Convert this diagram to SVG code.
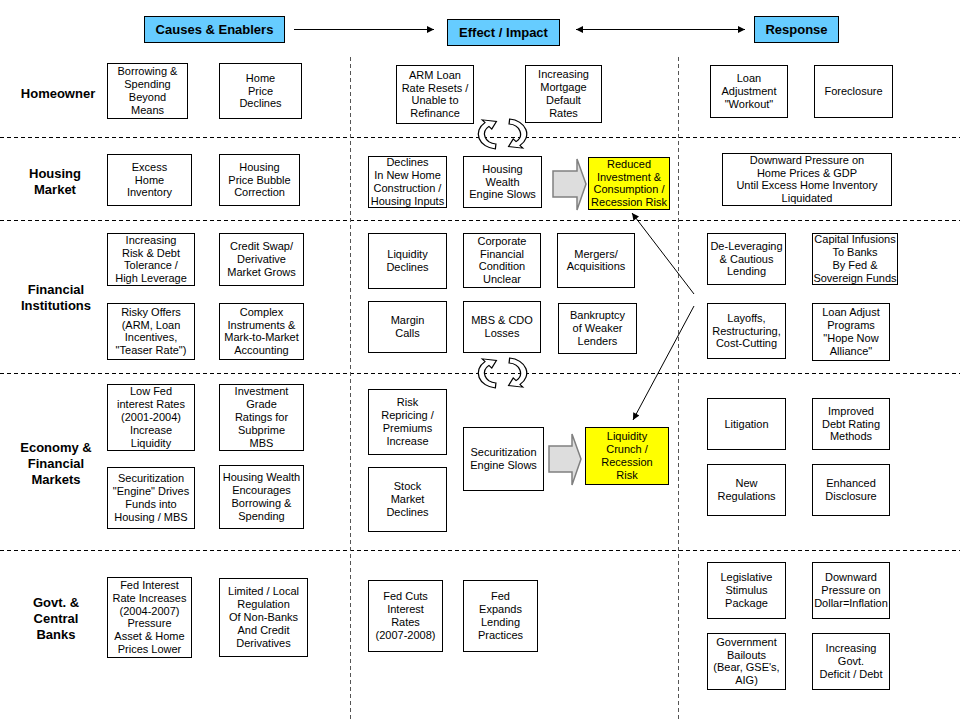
<svg xmlns="http://www.w3.org/2000/svg" width="960" height="720" viewBox="0 0 960 720">
<style>
.bx{fill:#fff;stroke:#000;stroke-width:1}
.yl{fill:#ffff00;stroke:#000;stroke-width:1}
.hd{fill:#66ccff;stroke:#000;stroke-width:1}
.t{font-family:"Liberation Sans",Arial,sans-serif;font-size:11px;fill:#000;text-anchor:middle}
.ht{font-family:"Liberation Sans",Arial,sans-serif;font-size:13px;font-weight:bold;fill:#000;text-anchor:middle}
.rl{font-family:"Liberation Sans",Arial,sans-serif;font-size:13px;font-weight:bold;fill:#000;text-anchor:middle}
.hl{stroke:#000;stroke-width:1;stroke-dasharray:4 3;fill:none}
.vl{stroke:#555;stroke-width:1;stroke-dasharray:4 3;fill:none}
.cn{stroke:#000;stroke-width:1;fill:none}
.blk{fill:#dddddd;stroke:#808080;stroke-width:1.5}
.ca{fill:#fff;stroke:#000;stroke-width:1}
</style>
<defs>
<marker id="ah" viewBox="0 0 10 10" refX="10" refY="5" markerWidth="9" markerHeight="7" markerUnits="userSpaceOnUse" orient="auto-start-reverse"><path d="M0,0 L10,5 L0,10 z" fill="#000"/></marker>
<path id="carc" d="M-1.31,14.94 A15,15 0 0 1 -9.64,-11.49 L-11.89,-14.17 L-0.44,-12.49 L-4.18,-4.98 L-6.43,-7.66 A10,10 0 0 0 -0.87,9.96 Z"/>
</defs>
<rect width="960" height="720" fill="#fff"/>

<g id="gridlines">
<line class="hl" x1="0" y1="137.5" x2="960" y2="137.5"/>
<line class="hl" x1="0" y1="220.5" x2="960" y2="220.5"/>
<line class="hl" x1="0" y1="373.5" x2="960" y2="373.5"/>
<line class="hl" x1="0" y1="550.5" x2="960" y2="550.5"/>
<line class="vl" x1="350.5" y1="57" x2="350.5" y2="720"/>
<line class="vl" x1="678.5" y1="57" x2="678.5" y2="720"/>
</g>

<g id="headers">
<g id="hdr-causes"><rect class="hd" x="144.5" y="16.5" width="140" height="26"/><text class="ht" x="214.5" y="34">Causes &amp; Enablers</text></g>
<g id="hdr-effect"><rect class="hd" x="447.5" y="19.5" width="112" height="26"/><text class="ht" x="503.5" y="37">Effect / Impact</text></g>
<g id="hdr-response"><rect class="hd" x="754.5" y="16.5" width="84" height="26"/><text class="ht" x="796.5" y="34">Response</text></g>
</g>

<g id="row-labels">
<text class="rl" x="58" y="98">Homeowner</text>
<text class="rl" x="55" y="178"><tspan x="55">Housing</tspan><tspan x="55" dy="16">Market</tspan></text>
<text class="rl" x="56" y="294"><tspan x="56">Financial</tspan><tspan x="56" dy="16">Institutions</tspan></text>
<text class="rl" x="56" y="452"><tspan x="56">Economy &amp;</tspan><tspan x="56" dy="16">Financial</tspan><tspan x="56" dy="16">Markets</tspan></text>
<text class="rl" x="56" y="607"><tspan x="56">Govt. &amp;</tspan><tspan x="56" dy="16">Central</tspan><tspan x="56" dy="16">Banks</tspan></text>
</g>

<g id="connectors">
<line class="cn" x1="294" y1="29.5" x2="434" y2="29.5" marker-end="url(#ah)"/>
<line class="cn" x1="576" y1="29.5" x2="745" y2="29.5" marker-start="url(#ah)" marker-end="url(#ah)"/>
<line class="cn" x1="694" y1="294" x2="632" y2="213" marker-end="url(#ah)"/>
<line class="cn" x1="694" y1="306" x2="633" y2="420" marker-end="url(#ah)"/>
<polygon class="blk" points="553,171 577,171 577,159 586,184 577,210 577,197 553,197"/>
<polygon class="blk" points="549,446 572,446 572,434 581,459 572,485 572,472 549,472"/>
<use href="#carc" class="ca" transform="translate(497,134) scale(1.25,1)"/>
<use href="#carc" class="ca" transform="translate(508,134) scale(-1.25,-1)"/>
<use href="#carc" class="ca" transform="translate(497,373) scale(1.25,1)"/>
<use href="#carc" class="ca" transform="translate(508,373) scale(-1.25,-1)"/>
</g>

<g id="n1"><rect class="bx" x="107.5" y="63.5" width="80" height="55"/><text class="t" y="75.3"><tspan x="147.5">Borrowing &amp;</tspan><tspan x="147.5" dy="12.8">Spending</tspan><tspan x="147.5" dy="12.8">Beyond</tspan><tspan x="147.5" dy="12.8">Means</tspan></text></g>
<g id="n2"><rect class="bx" x="219.5" y="63.5" width="82" height="55"/><text class="t" y="81.7"><tspan x="260.5">Home</tspan><tspan x="260.5" dy="12.8">Price</tspan><tspan x="260.5" dy="12.8">Declines</tspan></text></g>
<g id="n3"><rect class="bx" x="396.5" y="65.5" width="77" height="58"/><text class="t" y="78.8"><tspan x="435">ARM Loan</tspan><tspan x="435" dy="12.8">Rate Resets /</tspan><tspan x="435" dy="12.8">Unable to</tspan><tspan x="435" dy="12.8">Refinance</tspan></text></g>
<g id="n4"><rect class="bx" x="525.5" y="65.5" width="76" height="57"/><text class="t" y="78.3"><tspan x="563.5">Increasing</tspan><tspan x="563.5" dy="12.8">Mortgage</tspan><tspan x="563.5" dy="12.8">Default</tspan><tspan x="563.5" dy="12.8">Rates</tspan></text></g>
<g id="n5"><rect class="bx" x="710.5" y="65.5" width="77" height="52"/><text class="t" y="82.2"><tspan x="749">Loan</tspan><tspan x="749" dy="12.8">Adjustment</tspan><tspan x="749" dy="12.8">"Workout"</tspan></text></g>
<g id="n6"><rect class="bx" x="814.5" y="65.5" width="78" height="52"/><text class="t" x="853.5" y="95">Foreclosure</text></g>

<g id="h1"><rect class="bx" x="107.5" y="154.5" width="84" height="51"/><text class="t" y="170.7"><tspan x="149.5">Excess</tspan><tspan x="149.5" dy="12.8">Home</tspan><tspan x="149.5" dy="12.8">Inventory</tspan></text></g>
<g id="h2"><rect class="bx" x="219.5" y="154.5" width="80" height="51"/><text class="t" y="170.7"><tspan x="259.5">Housing</tspan><tspan x="259.5" dy="12.8">Price Bubble</tspan><tspan x="259.5" dy="12.8">Correction</tspan></text></g>
<g id="h3"><rect class="bx" x="368.5" y="156.5" width="78" height="51"/><text class="t" y="166.3"><tspan x="407.5">Declines</tspan><tspan x="407.5" dy="12.8">In New Home</tspan><tspan x="407.5" dy="12.8">Construction /</tspan><tspan x="407.5" dy="12.8">Housing Inputs</tspan></text></g>
<g id="h4"><rect class="bx" x="463.5" y="156.5" width="78" height="51"/><text class="t" y="172.7"><tspan x="502.5">Housing</tspan><tspan x="502.5" dy="12.8">Wealth</tspan><tspan x="502.5" dy="12.8">Engine Slows</tspan></text></g>
<g id="h5"><rect class="yl" x="588.5" y="157.5" width="81" height="52"/><text class="t" y="167.8"><tspan x="629">Reduced</tspan><tspan x="629" dy="12.8">Investment &amp;</tspan><tspan x="629" dy="12.8">Consumption /</tspan><tspan x="629" dy="12.8">Recession Risk</tspan></text></g>
<g id="h6"><rect class="bx" x="722.5" y="153.5" width="169" height="52"/><text class="t" y="163.8"><tspan x="807">Downward Pressure on</tspan><tspan x="807" dy="12.8">Home Prices &amp; GDP</tspan><tspan x="807" dy="12.8">Until Excess Home Inventory</tspan><tspan x="807" dy="12.8">Liquidated</tspan></text></g>

<g id="f1"><rect class="bx" x="107.5" y="233.5" width="87" height="52"/><text class="t" y="243.8"><tspan x="151">Increasing</tspan><tspan x="151" dy="12.8">Risk &amp; Debt</tspan><tspan x="151" dy="12.8">Tolerance /</tspan><tspan x="151" dy="12.8">High Leverage</tspan></text></g>
<g id="f2"><rect class="bx" x="219.5" y="233.5" width="84" height="52"/><text class="t" y="250.2"><tspan x="261.5">Credit Swap/</tspan><tspan x="261.5" dy="12.8">Derivative</tspan><tspan x="261.5" dy="12.8">Market Grows</tspan></text></g>
<g id="f3"><rect class="bx" x="107.5" y="303.5" width="87" height="56"/><text class="t" y="315.8"><tspan x="151">Risky Offers</tspan><tspan x="151" dy="12.8">(ARM, Loan</tspan><tspan x="151" dy="12.8">Incentives,</tspan><tspan x="151" dy="12.8">"Teaser Rate")</tspan></text></g>
<g id="f4"><rect class="bx" x="219.5" y="303.5" width="84" height="56"/><text class="t" y="315.8"><tspan x="261.5">Complex</tspan><tspan x="261.5" dy="12.8">Instruments &amp;</tspan><tspan x="261.5" dy="12.8">Mark-to-Market</tspan><tspan x="261.5" dy="12.8">Accounting</tspan></text></g>
<g id="f5"><rect class="bx" x="368.5" y="233.5" width="78" height="55"/><text class="t" y="258.1"><tspan x="407.5">Liquidity</tspan><tspan x="407.5" dy="12.8">Declines</tspan></text></g>
<g id="f6"><rect class="bx" x="463.5" y="233.5" width="77" height="54"/><text class="t" y="244.8"><tspan x="502">Corporate</tspan><tspan x="502" dy="12.8">Financial</tspan><tspan x="502" dy="12.8">Condition</tspan><tspan x="502" dy="12.8">Unclear</tspan></text></g>
<g id="f7"><rect class="bx" x="557.5" y="233.5" width="77" height="54"/><text class="t" y="257.6"><tspan x="596">Mergers/</tspan><tspan x="596" dy="12.8">Acquisitions</tspan></text></g>
<g id="f8"><rect class="bx" x="368.5" y="301.5" width="78" height="51"/><text class="t" y="324.1"><tspan x="407.5">Margin</tspan><tspan x="407.5" dy="12.8">Calls</tspan></text></g>
<g id="f9"><rect class="bx" x="463.5" y="301.5" width="77" height="51"/><text class="t" y="324.1"><tspan x="502">MBS &amp; CDO</tspan><tspan x="502" dy="12.8">Losses</tspan></text></g>
<g id="f10"><rect class="bx" x="558.5" y="303.5" width="78" height="50"/><text class="t" y="319.2"><tspan x="597.5">Bankruptcy</tspan><tspan x="597.5" dy="12.8">of Weaker</tspan><tspan x="597.5" dy="12.8">Lenders</tspan></text></g>
<g id="f11"><rect class="bx" x="707.5" y="233.5" width="78" height="51"/><text class="t" y="249.7"><tspan x="746.5">De-Leveraging</tspan><tspan x="746.5" dy="12.8">&amp; Cautious</tspan><tspan x="746.5" dy="12.8">Lending</tspan></text></g>
<g id="f12"><rect class="bx" x="812.5" y="233.5" width="85" height="51"/><text class="t" y="243.3"><tspan x="855">Capital Infusions</tspan><tspan x="855" dy="12.8">To Banks</tspan><tspan x="855" dy="12.8">By Fed &amp;</tspan><tspan x="855" dy="12.8">Sovereign Funds</tspan></text></g>
<g id="f13"><rect class="bx" x="707.5" y="303.5" width="78" height="55"/><text class="t" y="321.7"><tspan x="746.5">Layoffs,</tspan><tspan x="746.5" dy="12.8">Restructuring,</tspan><tspan x="746.5" dy="12.8">Cost-Cutting</tspan></text></g>
<g id="f14"><rect class="bx" x="812.5" y="303.5" width="77" height="57"/><text class="t" y="316.3"><tspan x="851">Loan Adjust</tspan><tspan x="851" dy="12.8">Programs</tspan><tspan x="851" dy="12.8">"Hope Now</tspan><tspan x="851" dy="12.8">Alliance"</tspan></text></g>

<g id="e1"><rect class="bx" x="107.5" y="384.5" width="87" height="66"/><text class="t" y="395.4"><tspan x="151">Low Fed</tspan><tspan x="151" dy="12.8">interest Rates</tspan><tspan x="151" dy="12.8">(2001-2004)</tspan><tspan x="151" dy="12.8">Increase</tspan><tspan x="151" dy="12.8">Liquidity</tspan></text></g>
<g id="e2"><rect class="bx" x="219.5" y="384.5" width="84" height="66"/><text class="t" y="395.4"><tspan x="261.5">Investment</tspan><tspan x="261.5" dy="12.8">Grade</tspan><tspan x="261.5" dy="12.8">Ratings for</tspan><tspan x="261.5" dy="12.8">Subprime</tspan><tspan x="261.5" dy="12.8">MBS</tspan></text></g>
<g id="e3"><rect class="bx" x="107.5" y="467.5" width="87" height="61"/><text class="t" y="482.3"><tspan x="151">Securitization</tspan><tspan x="151" dy="12.8">"Engine" Drives</tspan><tspan x="151" dy="12.8">Funds into</tspan><tspan x="151" dy="12.8">Housing / MBS</tspan></text></g>
<g id="e4"><rect class="bx" x="219.5" y="465.5" width="84" height="63"/><text class="t" y="481.3"><tspan x="261.5">Housing Wealth</tspan><tspan x="261.5" dy="12.8">Encourages</tspan><tspan x="261.5" dy="12.8">Borrowing &amp;</tspan><tspan x="261.5" dy="12.8">Spending</tspan></text></g>
<g id="e5"><rect class="bx" x="368.5" y="389.5" width="78" height="65"/><text class="t" y="406.3"><tspan x="407.5">Risk</tspan><tspan x="407.5" dy="12.8">Repricing /</tspan><tspan x="407.5" dy="12.8">Premiums</tspan><tspan x="407.5" dy="12.8">Increase</tspan></text></g>
<g id="e6"><rect class="bx" x="368.5" y="467.5" width="78" height="64"/><text class="t" y="490.2"><tspan x="407.5">Stock</tspan><tspan x="407.5" dy="12.8">Market</tspan><tspan x="407.5" dy="12.8">Declines</tspan></text></g>
<g id="e7"><rect class="bx" x="463.5" y="427.5" width="80" height="63"/><text class="t" y="456.1"><tspan x="503.5">Securitization</tspan><tspan x="503.5" dy="12.8">Engine Slows</tspan></text></g>
<g id="e8"><rect class="yl" x="585.5" y="427.5" width="83" height="57"/><text class="t" y="440.3"><tspan x="627">Liquidity</tspan><tspan x="627" dy="12.8">Crunch /</tspan><tspan x="627" dy="12.8">Recession</tspan><tspan x="627" dy="12.8">Risk</tspan></text></g>
<g id="e9"><rect class="bx" x="707.5" y="398.5" width="78" height="51"/><text class="t" x="746.5" y="427.5">Litigation</text></g>
<g id="e10"><rect class="bx" x="812.5" y="398.5" width="77" height="51"/><text class="t" y="414.7"><tspan x="851">Improved</tspan><tspan x="851" dy="12.8">Debt Rating</tspan><tspan x="851" dy="12.8">Methods</tspan></text></g>
<g id="e11"><rect class="bx" x="707.5" y="464.5" width="78" height="51"/><text class="t" y="487.1"><tspan x="746.5">New</tspan><tspan x="746.5" dy="12.8">Regulations</tspan></text></g>
<g id="e12"><rect class="bx" x="812.5" y="464.5" width="77" height="51"/><text class="t" y="487.1"><tspan x="851">Enhanced</tspan><tspan x="851" dy="12.8">Disclosure</tspan></text></g>

<g id="g1"><rect class="bx" x="107.5" y="577.5" width="84" height="80"/><text class="t" y="589"><tspan x="149.5">Fed Interest</tspan><tspan x="149.5" dy="12.8">Rate Increases</tspan><tspan x="149.5" dy="12.8">(2004-2007)</tspan><tspan x="149.5" dy="12.8">Pressure</tspan><tspan x="149.5" dy="12.8">Asset &amp; Home</tspan><tspan x="149.5" dy="12.8">Prices Lower</tspan></text></g>
<g id="g2"><rect class="bx" x="219.5" y="578.5" width="88" height="78"/><text class="t" y="595.4"><tspan x="263.5">Limited / Local</tspan><tspan x="263.5" dy="12.8">Regulation</tspan><tspan x="263.5" dy="12.8">Of Non-Banks</tspan><tspan x="263.5" dy="12.8">And Credit</tspan><tspan x="263.5" dy="12.8">Derivatives</tspan></text></g>
<g id="g3"><rect class="bx" x="368.5" y="580.5" width="74" height="71"/><text class="t" y="600.3"><tspan x="405.5">Fed Cuts</tspan><tspan x="405.5" dy="12.8">Interest</tspan><tspan x="405.5" dy="12.8">Rates</tspan><tspan x="405.5" dy="12.8">(2007-2008)</tspan></text></g>
<g id="g4"><rect class="bx" x="463.5" y="580.5" width="74" height="71"/><text class="t" y="600.3"><tspan x="500.5">Fed</tspan><tspan x="500.5" dy="12.8">Expands</tspan><tspan x="500.5" dy="12.8">Lending</tspan><tspan x="500.5" dy="12.8">Practices</tspan></text></g>
<g id="g5"><rect class="bx" x="707.5" y="562.5" width="78" height="56"/><text class="t" y="581.2"><tspan x="746.5">Legislative</tspan><tspan x="746.5" dy="12.8">Stimulus</tspan><tspan x="746.5" dy="12.8">Package</tspan></text></g>
<g id="g6"><rect class="bx" x="812.5" y="562.5" width="77" height="56"/><text class="t" y="581.2"><tspan x="851">Downward</tspan><tspan x="851" dy="12.8">Pressure on</tspan><tspan x="851" dy="12.8">Dollar=Inflation</tspan></text></g>
<g id="g7"><rect class="bx" x="707.5" y="633.5" width="78" height="56"/><text class="t" y="645.8"><tspan x="746.5">Government</tspan><tspan x="746.5" dy="12.8">Bailouts</tspan><tspan x="746.5" dy="12.8">(Bear, GSE's,</tspan><tspan x="746.5" dy="12.8">AIG)</tspan></text></g>
<g id="g8"><rect class="bx" x="812.5" y="633.5" width="77" height="56"/><text class="t" y="652.2"><tspan x="851">Increasing</tspan><tspan x="851" dy="12.8">Govt.</tspan><tspan x="851" dy="12.8">Deficit / Debt</tspan></text></g>
</svg>
